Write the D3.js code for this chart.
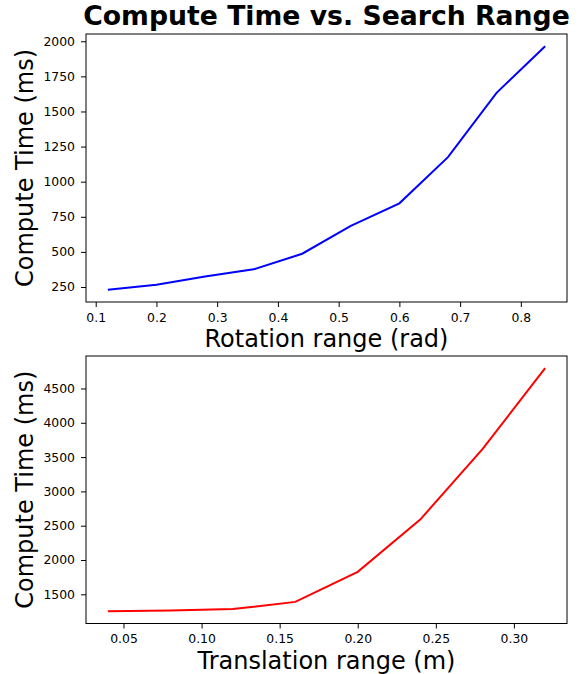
<!DOCTYPE html>
<html>
<head>
<meta charset="utf-8">
<script src="https://cdnjs.cloudflare.com/ajax/libs/d3/7.8.5/d3.min.js"></script>
<style>
    body { margin: 0; background: #fff; }
    svg { font-family: "DejaVu Sans", sans-serif; }
    .tick text { fill: #000; }
    .tick line { stroke: #000; }
</style>
</head>
<body>
<script>

// data
var rotRange = [0.12, 0.20, 0.28, 0.36, 0.44, 0.52, 0.60, 0.68, 0.76, 0.84];
var rotTime = [230, 266, 325, 376, 487, 685, 846, 1175, 1633, 1965];

var transRange = [0.04, 0.08, 0.12, 0.16, 0.20, 0.24, 0.28, 0.32];
var transTime = [1252, 1265, 1285, 1390, 1828, 2589, 3620, 4796];

var rotTicksX = [0.1, 0.2, 0.3, 0.4, 0.5, 0.6, 0.7, 0.8];
var rotTicksY = [250, 500, 750, 1000, 1250, 1500, 1750, 2000];
var transTicksX = [0.05, 0.10, 0.15, 0.20, 0.25, 0.30];
var transTicksY = [1500, 2000, 2500, 3000, 3500, 4000, 4500];

var totalWidth = 580,
    totalHeight = 674;

var svg = d3.select("body").append("svg")
    .attr("width", totalWidth)
    .attr("height", totalHeight);

// pad a domain by 5% like matplotlib does
function padded(vals) {
    var ext = d3.extent(vals),
        m = (ext[1] - ext[0]) * 0.05;
    return [ext[0] - m, ext[1] + m];
}

function styleAxis(a) {
    a.select(".domain").remove();
    a.attr("font-family", "DejaVu Sans, sans-serif")
        .attr("font-size", 12.4);
}

function makePanel(box, xs, ys, color, xTicks, xFormat, yTicks, xLabel) {
    var x = d3.scaleLinear().domain(padded(xs)).range([box.left, box.right]);
    var y = d3.scaleLinear().domain(padded(ys)).range([box.bottom, box.top]);

    var g = svg.append("g");

    g.append("g")
        .attr("transform", "translate(0," + box.bottom + ")")
        .call(d3.axisBottom(x).tickValues(xTicks).tickFormat(d3.format(xFormat))
            .tickSizeInner(5).tickSizeOuter(0).tickPadding(6))
        .call(styleAxis);

    g.append("g")
        .attr("transform", "translate(" + box.left + ",0)")
        .call(d3.axisLeft(y).tickValues(yTicks).tickFormat(d3.format("d"))
            .tickSizeInner(5).tickSizeOuter(0).tickPadding(6))
        .call(styleAxis);

    var line = d3.line()
        .x(function(d, i) { return x(xs[i]); })
        .y(function(d) { return y(d); });

    g.append("path")
        .datum(ys)
        .attr("d", line)
        .attr("fill", "none")
        .attr("stroke", color)
        .attr("stroke-width", 2);

    // frame
    g.append("rect")
        .attr("x", box.left)
        .attr("y", box.top)
        .attr("width", box.right - box.left)
        .attr("height", box.bottom - box.top)
        .attr("fill", "none")
        .attr("stroke", "#000")
        .attr("stroke-width", 1);

    g.append("text")
        .attr("x", (box.left + box.right) / 2)
        .attr("y", box.bottom + 45)
        .attr("text-anchor", "middle")
        .style("font-size", "24px")
        .text(xLabel);

    g.append("text")
        .attr("transform", "translate(32.5," + (box.top + box.bottom) / 2 + ") rotate(-90)")
        .attr("text-anchor", "middle")
        .style("font-size", "24px")
        .text("Compute Time (ms)");
}

makePanel({left: 86, right: 567, top: 34, bottom: 302},
    rotRange, rotTime, "#0000ff", rotTicksX, ".1f", rotTicksY, "Rotation range (rad)");

makePanel({left: 86, right: 567, top: 356, bottom: 623.5},
    transRange, transTime, "#ff0000", transTicksX, ".2f", transTicksY, "Translation range (m)");

svg.append("text")
    .attr("x", 326.5)
    .attr("y", 25)
    .attr("text-anchor", "middle")
    .style("font-size", "26.7px")
    .style("font-weight", "bold")
    .text("Compute Time vs. Search Range");

</script>
</body>
</html>
